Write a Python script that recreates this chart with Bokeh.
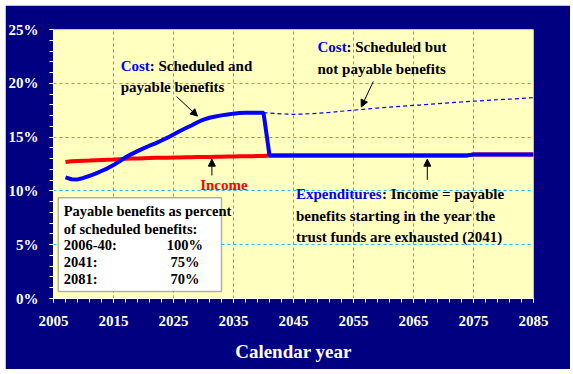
from bokeh.plotting import figure
from bokeh.models import (Range1d, FixedTicker, Label, Arrow, NormalHead, BoxAnnotation)
from bokeh.embed import file_html
from bokeh.resources import INLINE

# ---------------- data ----------------
years = list(range(2007, 2086))

cost_scheduled = [
    11.25, 11.08, 11.07, 11.20, 11.40, 11.60, 11.85, 12.10, 12.40, 12.75,   # 2007-2016
    13.12, 13.42, 13.70, 13.95, 14.20, 14.42, 14.68, 14.95, 15.25, 15.55,   # 2017-2026
    15.82, 16.08, 16.38, 16.62, 16.80, 16.92, 17.02, 17.10, 17.18, 17.23,   # 2027-2036
    17.26, 17.27, 17.27, 17.26, 17.24, 17.20, 17.16, 17.13, 17.12, 17.13,   # 2037-2046
    17.15, 17.18, 17.22, 17.26, 17.30, 17.35, 17.40, 17.45, 17.50, 17.55,   # 2047-2056
    17.60, 17.65, 17.70, 17.74, 17.78, 17.82, 17.86, 17.90, 17.94, 17.98,   # 2057-2066
    18.02, 18.06, 18.10, 18.14, 18.18, 18.22, 18.26, 18.30, 18.34, 18.37,   # 2067-2076
    18.40, 18.44, 18.47, 18.50, 18.53, 18.56, 18.59, 18.63, 18.66,          # 2077-2085
]

income = [
    12.68, 12.75, 12.78, 12.80, 12.82, 12.85, 12.88, 12.90, 12.92, 12.95,   # 2007-2016
    12.98, 13.00, 13.02, 13.04, 13.06, 13.07, 13.08, 13.09, 13.10, 13.11,   # 2017-2026
    13.12, 13.13, 13.14, 13.15, 13.16, 13.17, 13.18, 13.19, 13.20, 13.21,   # 2027-2036
    13.22, 13.23, 13.24, 13.25, 13.30, 13.30, 13.30, 13.30, 13.30, 13.30,   # 2037-2046
    13.30, 13.30, 13.30, 13.30, 13.30, 13.30, 13.30, 13.30, 13.30, 13.30,   # 2047-2056
    13.30, 13.30, 13.30, 13.30, 13.30, 13.30, 13.30, 13.30, 13.30, 13.30,   # 2057-2066
    13.30, 13.30, 13.30, 13.30, 13.30, 13.30, 13.30, 13.30, 13.38, 13.38,   # 2067-2076
    13.38, 13.38, 13.38, 13.38, 13.38, 13.38, 13.38, 13.38, 13.38,          # 2077-2085
]

exhaustion_year = 2041
x_ticks = list(range(2005, 2086, 10))
x_minor = list(range(2005, 2086, 2))
y_ticks = [0, 5, 10, 15, 20, 25]
y_tick_labels = ["0%", "5%", "10%", "15%", "20%", "25%"]

legend_title = ["Payable benefits as percent", "of scheduled benefits:"]
legend_periods = ["2006-40:", "2041:", "2081:"]
legend_pcts = ["100%", "75%", "70%"]

# payable cost = scheduled until exhaustion, income afterwards
years_payable = list(years)
payable = [c if y < exhaustion_year else i for y, c, i in zip(years, cost_scheduled, income)]
years_unpayable = [y for y in years if y >= exhaustion_year - 1]
unpayable = [c for y, c in zip(years, cost_scheduled) if y >= exhaustion_year - 1]

# ---------------- figure ----------------
NAVY = "#000080"
BG = "#FFFFC0"
GRID = "#22BBEE"
BLUE = "#0000FF"
RED = "#FF0000"
FONT = "Liberation Serif"

p = figure(frame_width=480, frame_height=269, output_backend="svg", toolbar_location=None,
           x_range=Range1d(2005, 2085), y_range=Range1d(0, 25),
           min_border_left=46, min_border_right=37, min_border_top=24, min_border_bottom=71)
p.margin = (5, 5, 5, 5)
p.border_fill_color = NAVY
p.background_fill_color = BG
p.outline_line_color = None

for ax in (p.xaxis[0], p.yaxis[0]):
    ax.axis_line_color = "white"
    ax.major_tick_line_color = "white"
    ax.minor_tick_line_color = "white"
    ax.major_tick_out = 4
    ax.major_tick_in = 0
    ax.minor_tick_out = 4
    ax.minor_tick_in = 0
    ax.major_label_text_color = "white"
    ax.major_label_text_font = FONT
    ax.major_label_text_font_style = "bold"
    ax.major_label_text_font_size = "15px"

p.xaxis.ticker = FixedTicker(ticks=x_ticks, minor_ticks=x_minor)
p.yaxis.ticker = FixedTicker(ticks=y_ticks, minor_ticks=list(range(0, 26)))
p.yaxis.major_label_overrides = {t: l for t, l in zip(y_ticks, y_tick_labels)}
p.yaxis.major_label_standoff = 11
p.xaxis.major_label_standoff = 13

p.xaxis.axis_label = "Calendar year"
p.xaxis.axis_label_text_color = "white"
p.xaxis.axis_label_text_font = FONT
p.xaxis.axis_label_text_font_style = "bold"
p.xaxis.axis_label_text_font_size = "19px"
p.xaxis.axis_label_standoff = 12

p.xgrid.ticker = FixedTicker(ticks=x_ticks[1:-1])
p.ygrid.ticker = FixedTicker(ticks=y_ticks[1:-1])
for g in (p.xgrid[0], p.ygrid[0]):
    g.grid_line_color = GRID
    g.grid_line_dash = "3 3"
    g.grid_line_width = 1

# lines
p.line(years_unpayable, unpayable, line_color=BLUE, line_width=1.2, line_dash="4 3")
p.line(years, income, line_color=RED, line_width=4)
p.line(years_payable, payable, line_color=BLUE, line_width=4)

# ---------------- annotations ----------------
def lab(x, y, text, color="black", size="15px", align="left", x_offset=0):
    p.add_layout(Label(x=x, y=y, text=text, text_color=color, text_font=FONT,
                       text_font_style="bold", text_font_size=size, text_align=align,
                       text_baseline="middle", x_offset=x_offset))

def arrow(x0, y0, x1, y1):
    p.add_layout(Arrow(x_start=x0, y_start=y0, x_end=x1, y_end=y1, line_color="black",
                       line_width=1,
                       end=NormalHead(size=7, fill_color="black", line_color="black")))

# Cost: scheduled and payable
lab(2016.2, 21.6, "Cost", BLUE)
lab(2016.2, 21.6, ": Scheduled and", x_offset=29)
lab(2016.2, 19.7, "payable benefits")
arrow(2025.5, 18.77, 2029.0, 16.95)

# Cost: scheduled but not payable
lab(2049.0, 23.36, "Cost", BLUE)
lab(2049.0, 23.36, ": Scheduled but", x_offset=29)
lab(2049.0, 21.35, "not payable benefits")
arrow(2058.3, 20.17, 2056.3, 17.8)

# Income
lab(2033.4, 10.57, "Income", RED, align="center")
arrow(2031.4, 11.43, 2031.4, 12.95)

# Expenditures
lab(2045.4, 9.67, "Expenditures", BLUE)
lab(2045.4, 9.67, ": Income = payable", x_offset=86)
lab(2045.4, 7.65, "benefits starting in the year the")
lab(2045.4, 5.70, "trust funds are exhausted (2041)")
arrow(2067.3, 11.03, 2067.3, 12.95)

# Legend box
p.add_layout(BoxAnnotation(left=2005.8, right=2033.0, bottom=0.65, top=9.36,
                           fill_color="white", fill_alpha=1.0,
                           line_color="black", line_width=1.5))
legend_y = [8.09, 6.48, 4.99, 3.37, 1.77]
for t, y in zip(legend_title, legend_y[:2]):
    lab(2006.7, y, t, size="14.5px")
for per, pct, y in zip(legend_periods, legend_pcts, legend_y[2:]):
    lab(2006.7, y, per, size="14.5px")
    lab(2026.9, y, pct, size="14.5px", align="center")

open("out.html", "w").write(file_html(p, INLINE))
